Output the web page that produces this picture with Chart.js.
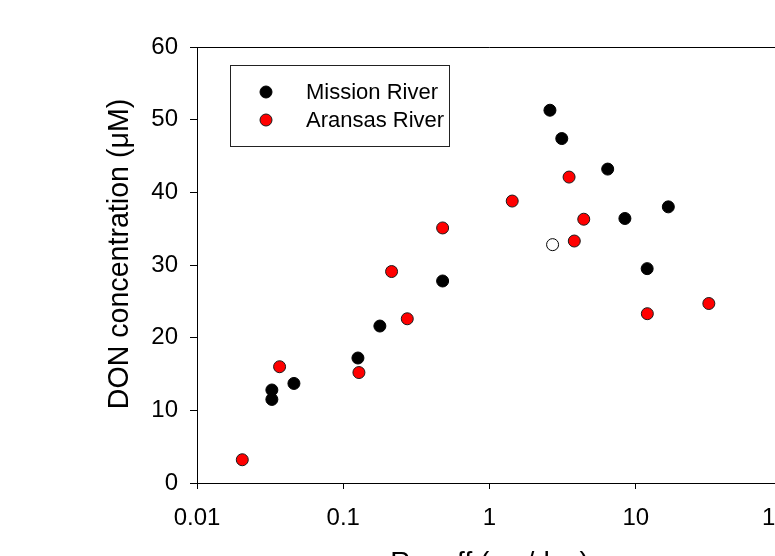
<!DOCTYPE html>
<html>
<head>
<meta charset="utf-8">
<script src="https://cdn.jsdelivr.net/npm/chart.js@4"></script>
<style>
  html, body { margin: 0; padding: 0; background: #fff; overflow: hidden; width: 775px; height: 556px; }
  canvas { display: block; }
</style>
</head>
<body>
<canvas id="c" width="820" height="600" style="width:820px;height:600px"></canvas>
<script>
// ---- data ----
const missionX = [0.0325, 0.0325, 0.046, 0.126, 0.178, 0.478, 2.59, 3.12, 6.43, 8.43, 11.97, 16.7];
const missionY = [12.8, 11.5, 13.7, 17.2, 21.6, 27.8, 51.3, 47.4, 43.2, 36.4, 29.5, 38.0];
const aransasX = [0.0204, 0.0367, 0.128, 0.214, 0.274, 0.478, 1.43, 3.50, 4.41, 3.80, 12.0, 31.6];
const aransasY = [3.2, 16.0, 15.2, 29.1, 22.6, 35.1, 38.8, 42.1, 36.3, 33.3, 23.3, 24.7];
const openX = [2.70];
const openY = [32.8];
const xTicks = [0.01, 0.1, 1, 10, 100];
const yTicks = [0, 10, 20, 30, 40, 50, 60];
const seriesLabels = ['Mission River', 'Aransas River'];
const xTitle = 'Runoff (cm/day)';
const yTitle = 'DON concentration (\u03BCM)';

const FONT = "'Liberation Sans', Arial, sans-serif";
const pts = (xs, ys) => xs.map((x, i) => ({ x: x, y: ys[i] }));

// frame (top/right border), y-axis title and in-plot legend box
const framePlugin = {
  id: 'frame',
  afterDraw(chart) {
    const { ctx, chartArea: a } = chart;
    ctx.save();
    ctx.strokeStyle = '#000';
    ctx.lineWidth = 1;
    ctx.beginPath();
    ctx.moveTo(a.left, a.top + 0.5);
    ctx.lineTo(a.right + 0.5, a.top + 0.5);
    ctx.lineTo(a.right + 0.5, a.bottom);
    ctx.stroke();
    // y-axis title
    ctx.save();
    ctx.translate(120, 254);
    ctx.rotate(-Math.PI / 2);
    ctx.font = '28.6px ' + FONT;
    ctx.fillStyle = '#000';
    ctx.textAlign = 'center';
    ctx.textBaseline = 'middle';
    ctx.fillText(yTitle, 0, 0);
    ctx.restore();
    // legend
    const bx = 230.5, by = 65.5, bw = 219, bh = 81;
    ctx.strokeStyle = '#222';
    ctx.strokeRect(bx, by, bw, bh);
    const rows = [92, 120];
    ctx.font = '22px ' + FONT;
    ctx.textBaseline = 'middle';
    ctx.textAlign = 'left';
    [0, 1].forEach(i => {
      const ds = chart.data.datasets[i];
      ctx.beginPath();
      ctx.arc(266, rows[i], 6, 0, Math.PI * 2);
      ctx.fillStyle = ds.pointBackgroundColor;
      ctx.fill();
      ctx.strokeStyle = ds.pointBorderColor;
      ctx.lineWidth = 1;
      ctx.stroke();
      ctx.fillStyle = '#000';
      ctx.fillText(ds.label, 306, rows[i] + 1);
    });
    ctx.restore();
  }
};

new Chart(document.getElementById('c'), {
  type: 'scatter',
  data: {
    datasets: [
      { label: seriesLabels[0], data: pts(missionX, missionY), pointRadius: 6, pointHoverRadius: 6,
        pointBackgroundColor: '#000', pointBorderColor: '#000', pointBorderWidth: 1, showLine: false },
      { label: seriesLabels[1], data: pts(aransasX, aransasY), pointRadius: 6, pointHoverRadius: 6,
        pointBackgroundColor: '#ff0000', pointBorderColor: '#1a1a1a', pointBorderWidth: 1, showLine: false },
      { label: '', data: pts(openX, openY), pointRadius: 6, pointHoverRadius: 6,
        pointBackgroundColor: '#fff', pointBorderColor: '#000', pointBorderWidth: 1, showLine: false }
    ]
  },
  options: {
    responsive: false,
    animation: false,
    devicePixelRatio: 1,
    layout: { padding: { left: 0, top: 47, right: 38, bottom: 0 } },
    plugins: { legend: { display: false }, tooltip: { enabled: false } },
    scales: {
      x: {
        type: 'logarithmic',
        min: xTicks[0], max: xTicks[xTicks.length - 1],
        afterBuildTicks: s => { s.ticks = xTicks.map(v => ({ value: v })); },
        afterFit: s => { s.height = 117; },
        ticks: { color: '#000', font: { family: FONT, size: 24 }, padding: 15, maxRotation: 0, autoSkip: false,
                 callback: v => String(v) },
        grid: { drawOnChartArea: false, drawTicks: true, tickLength: 6, color: '#000' },
        border: { display: true, color: '#000', width: 1 },
        title: { display: true, text: xTitle, color: '#000', font: { family: FONT, size: 28 }, padding: { top: 0, bottom: 20 } }
      },
      y: {
        min: yTicks[0], max: yTicks[yTicks.length - 1],
        afterBuildTicks: s => { s.ticks = yTicks.map(v => ({ value: v })); },
        afterFit: s => { s.width = 197; },
        ticks: { color: '#000', font: { family: FONT, size: 24 }, padding: 12 },
        grid: { drawOnChartArea: false, drawTicks: true, tickLength: 7, color: '#000' },
        border: { display: true, color: '#000', width: 1 },
        title: { display: false }
      }
    }
  },
  plugins: [framePlugin]
});
</script>
</body>
</html>
